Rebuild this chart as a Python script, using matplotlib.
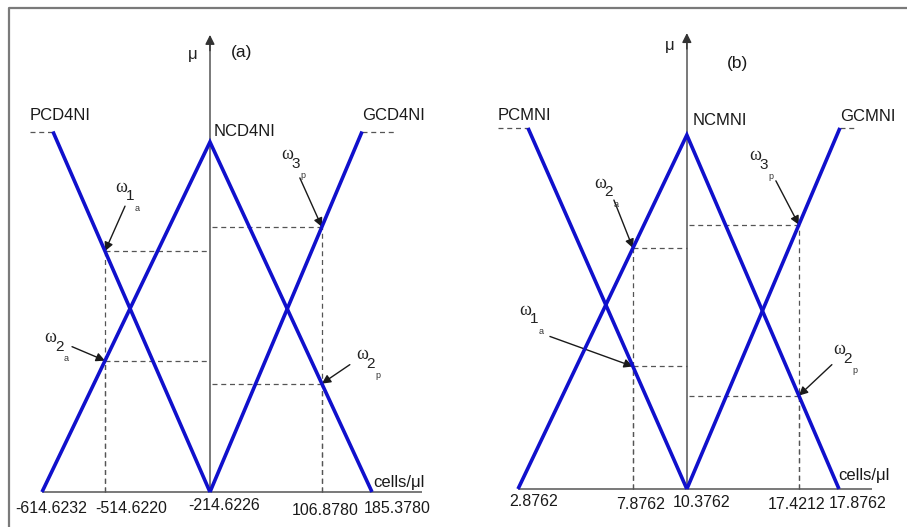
import numpy as np
import matplotlib
matplotlib.use("Agg")
import matplotlib.pyplot as plt
from matplotlib.lines import Line2D

plt.rcParams['font.family'] = ['Liberation Sans', 'DejaVu Sans']

# ---------------- data ----------------
# Panel (a): CD4 (cells/ul)
ticks_a = ["-614.6232", "-514.6220", "-214.6226", "106.8780", "185.3780"]
pos_a = [0.0, 0.191, 0.509, 0.848, 1.0]          # schematic positions of the tick values
names_a = ["PCD4NI", "NCD4NI", "GCD4NI"]
P_a_x, P_a_mu = [0.033, 0.509], [1.03, 0.0]
N_a_x, N_a_mu = [0.0, 0.509, 1.0], [0.0, 1.0, 0.0]
G_a_x, G_a_mu = [0.509, 0.970], [0.0, 1.03]

# Panel (b): CM (cells/ul)
ticks_b = ["2.8762", "7.8762", "10.3762", "17.4212", "17.8762"]
pos_b = [0.0, 0.358, 0.526, 0.875, 1.0]
names_b = ["PCMNI", "NCMNI", "GCMNI"]
P_b_x, P_b_mu = [0.031, 0.526], [1.02, 0.0]
N_b_x, N_b_mu = [0.0, 0.526, 1.0], [0.0, 1.0, 0.0]
G_b_x, G_b_mu = [0.526, 1.003], [0.0, 1.02]

# weights: (digit, letter, tick index, membership function)
weights_a = [("1", "a", 1, "P"), ("2", "a", 1, "N"), ("3", "p", 3, "G"), ("2", "p", 3, "N")]
weights_b = [("2", "a", 1, "N"), ("1", "a", 1, "P"), ("3", "p", 3, "G"), ("2", "p", 3, "N")]

# ---------------- layout ----------------
W, H = 907, 527
fig = plt.figure(figsize=(W / 100, H / 100), dpi=100)
fig.patch.set_facecolor('white')

BLUE = '#1010cc'
AXC = '#6e6e6e'
DASH = '#555555'
TXT = '#1a1a1a'


def make_ax(px0, px1, py0, py1):
    """axes covering the figure; data x 0..1 -> px0..px1, mu 0..1 -> py0..py1 (pixels from top)"""
    ax = fig.add_axes([0, 0, 1, 1])
    sx = px1 - px0
    sy = py0 - py1
    ax.set_xlim(-px0 / sx, (W - px0) / sx)
    ax.set_ylim((py0 - H) / sy, py0 / sy)
    ax.axis('off')
    ax.patch.set_alpha(0)
    return ax


def omega(ax, xy, arrow_off, text_off, digit, letter):
    ax.annotate('', xy=xy, xytext=arrow_off, textcoords='offset pixels',
                arrowprops=dict(arrowstyle='-|>', color='#1a1a1a', lw=1.0,
                                mutation_scale=13, shrinkA=0, shrinkB=0))
    tx, ty = text_off
    ax.annotate('\u03c9', xy=xy, xytext=(tx, ty), textcoords='offset pixels',
                ha='center', va='center', fontsize=13, family=['Liberation Serif', 'DejaVu Serif'],
                color='#222')
    ax.annotate(digit, xy=xy, xytext=(tx + 9, ty - 9), textcoords='offset pixels',
                ha='center', va='center', fontsize=11, color='#222')
    ax.annotate(letter, xy=xy, xytext=(tx + 16, ty - 21), textcoords='offset pixels',
                ha='center', va='center', fontsize=6.5, color='#333')


def panel(ax, ticks, pos, names, P, N, G, weights, lay):
    mfs = {"P": P, "N": N, "G": G}
    xn = pos[2]
    # axes
    ax.plot([0, lay['xend']], [0, 0], color=AXC, lw=1.3, solid_capstyle='butt', zorder=1)
    ax.plot([xn, xn], [0, lay['ytop'] - 0.03], color=AXC, lw=1.3, zorder=1)
    ax.annotate('', xy=(xn, lay['ytop']), xytext=(xn, lay['ytop'] - 0.045),
                arrowprops=dict(arrowstyle='-|>', color='#333333', lw=1.0, mutation_scale=14,
                                shrinkA=0, shrinkB=0), zorder=1)
    # dashed extensions at the shoulders
    ax.plot([lay['pdash'], P[0][0]], [P[1][0], P[1][0]], color=DASH, lw=0.9, ls=(0, (4, 3)))
    ax.plot([G[0][-1], lay['gdash']], [G[1][-1], G[1][-1]], color=DASH, lw=0.9, ls=(0, (4, 3)))
    # weight construction lines
    for digit, letter, k, mf in weights:
        xk = pos[k]
        xs, ys = mfs[mf]
        yk = float(np.interp(xk, xs, ys))
        ax.plot([xk, xn], [yk, yk], color=DASH, lw=0.9, ls=(0, (4, 3)), zorder=2)
        ax.plot([xk, xk], [0, yk], color=DASH, lw=0.9, ls=(0, (4, 3)), zorder=2)
        key = digit + letter
        omega(ax, (xk, yk), lay['arrow'][key], lay['text'][key], digit, letter)
    # membership functions
    for x, m in (P, N, G):
        ax.plot(x, m, color=BLUE, lw=2.6, solid_capstyle='butt', solid_joinstyle='miter', zorder=3)
    # labels
    for name, (lx, ly) in zip(names, lay['names']):
        ax.text(lx, ly, name, ha='left', va='center', fontsize=12, color=TXT)
    ax.text(lay['mu'][0], lay['mu'][1], '\u03bc', ha='center', va='center', fontsize=12, color='#222')
    ax.text(lay['tag'][0], lay['tag'][1], lay['tagtxt'], ha='center', va='center', fontsize=12.5, color=TXT)
    ax.text(lay['cells'][0], lay['cells'][1], 'cells/\u03bcl', ha='left', va='center', fontsize=12, color=TXT)
    for t, (lx, ly) in zip(ticks, lay['ticklab']):
        ax.text(lx, ly, t, ha='center', va='center', fontsize=11.5, color=TXT)


ax_a = make_ax(42, 372, 492, 142)
lay_a = dict(xend=1.152, ytop=1.306, pdash=-0.036, gdash=1.070,
             names=[(-0.036, 1.077), (0.521, 1.031), (0.970, 1.077)],
             mu=(0.458, 1.249), tag=(0.606, 1.257), tagtxt='(a)', cells=(1.003, 0.026),
             ticklab=[(0.027, -0.046), (0.270, -0.046), (0.552, -0.040), (0.858, -0.052), (1.076, -0.046)],
             arrow={"1a": (20, 45), "2a": (-33, 14), "3p": (-22, 49), "2p": (28, 19)},
             text={"1a": (16, 64), "2a": (-55, 23), "3p": (-35, 72), "2p": (40, 29)})
panel(ax_a, ticks_a, pos_a, names_a, (P_a_x, P_a_mu), (N_a_x, N_a_mu), (G_a_x, G_a_mu), weights_a, lay_a)

ax_b = make_ax(518, 839, 489, 135)
lay_b = dict(xend=1.103, ytop=1.288, pdash=-0.062, gdash=1.053,
             names=[(-0.062, 1.056), (0.545, 1.040), (1.003, 1.051)],
             mu=(0.474, 1.254), tag=(0.685, 1.203), tagtxt='(b)', cells=(0.997, 0.037),
             ticklab=[(0.050, -0.034), (0.383, -0.045), (0.573, -0.037), (0.869, -0.045), (1.059, -0.040)],
             arrow={"2a": (-19, 48), "1a": (-83, 30), "3p": (-23, 44), "2p": (33, 31)},
             text={"2a": (-33, 65), "1a": (-108, 56), "3p": (-44, 69), "2p": (40, 46)})
panel(ax_b, ticks_b, pos_b, names_b, (P_b_x, P_b_mu), (N_b_x, N_b_mu), (G_b_x, G_b_mu), weights_b, lay_b)

# outer frame (left and top edges visible)
fx, fy = 9 / W, 1 - 8 / H
fig.add_artist(Line2D([fx, fx, 1.0], [0.0, fy, fy], transform=fig.transFigure,
                      color='#7a7a7a', lw=1.6))

fig.savefig('out.png', dpi=100)
